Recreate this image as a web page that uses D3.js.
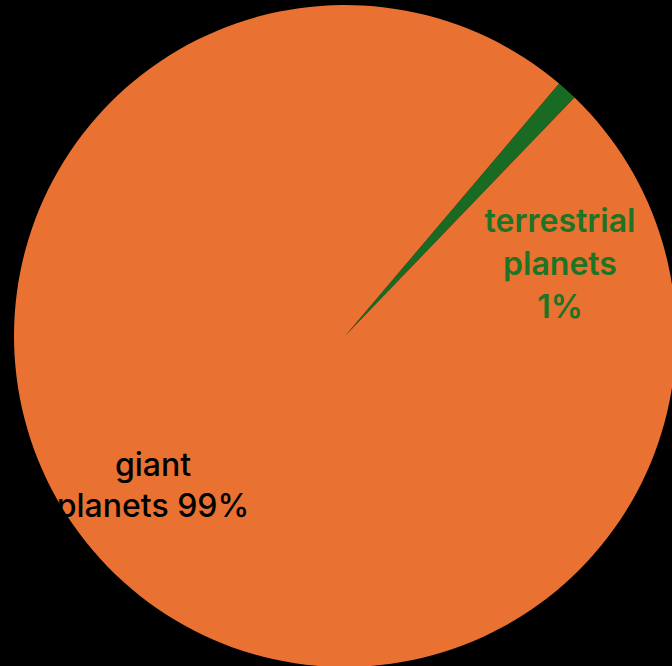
<!DOCTYPE html>
<html>
<head>
<meta charset="utf-8">
<script src="https://cdn.jsdelivr.net/npm/d3@7"></script>
<style>
  html, body { margin: 0; padding: 0; background: #000; }
  svg { display: block; }
</style>
</head>
<body>
<svg id="chart" width="672" height="666"></svg>
<script>
// ---- data ----
const categories = ["terrestrial planets", "giant planets"];
const values = [1, 99];
const labelLines = [["terrestrial", "planets", "1%"], ["giant", "planets 99%"]];

// ---- style / layout ----
const colors = ["#196B24", "#E97132"];
const textColors = ["#1C7424", "#000000"];
const fontWeights = [600, 500];
const W = 672, H = 666;
const cx = 345, cy = 336, R = 331;
const firstSliceAngle = 40.3; // degrees, clockwise from 12 o'clock
// label anchor: [angle in degrees from 12 o'clock, distance from center]
const labelPolar = [[71.3, 227], [-127.8, 243]];
const lineHeights = [43, 41];
const fontSize = 32;

const svg = d3.select("#chart");
const g = svg.append("g").attr("transform", `translate(${cx},${cy})`);

const start = firstSliceAngle * Math.PI / 180;
const pie = d3.pie().sort(null).startAngle(start).endAngle(start + 2 * Math.PI);
const arcs = pie(values);
const arc = d3.arc().innerRadius(0).outerRadius(R);

g.selectAll("path.slice")
  .data(arcs)
  .join("path")
  .attr("class", "slice")
  .attr("d", arc)
  .attr("fill", (d, i) => colors[i]);

g.selectAll("text.lbl")
  .data(arcs)
  .join("text")
  .attr("class", "lbl")
  .attr("font-family", "Inter, 'Open Sans', sans-serif")
  .attr("font-size", fontSize)
  .attr("font-weight", (d, i) => fontWeights[i])
  .attr("fill", (d, i) => textColors[i])
  .attr("text-anchor", "middle")
  .each(function(d, i) {
    const a = labelPolar[i][0] * Math.PI / 180, r = labelPolar[i][1];
    const x = r * Math.sin(a), y = -r * Math.cos(a);
    const lines = labelLines[i];
    const n = lines.length;
    const t = d3.select(this);
    lines.forEach((ln, k) => {
      t.append("tspan")
        .attr("x", x)
        .attr("y", y + (k - (n - 1) / 2) * lineHeights[i])
        .attr("dominant-baseline", "central")
        .text(ln);
    });
  });
</script>
</body>
</html>
